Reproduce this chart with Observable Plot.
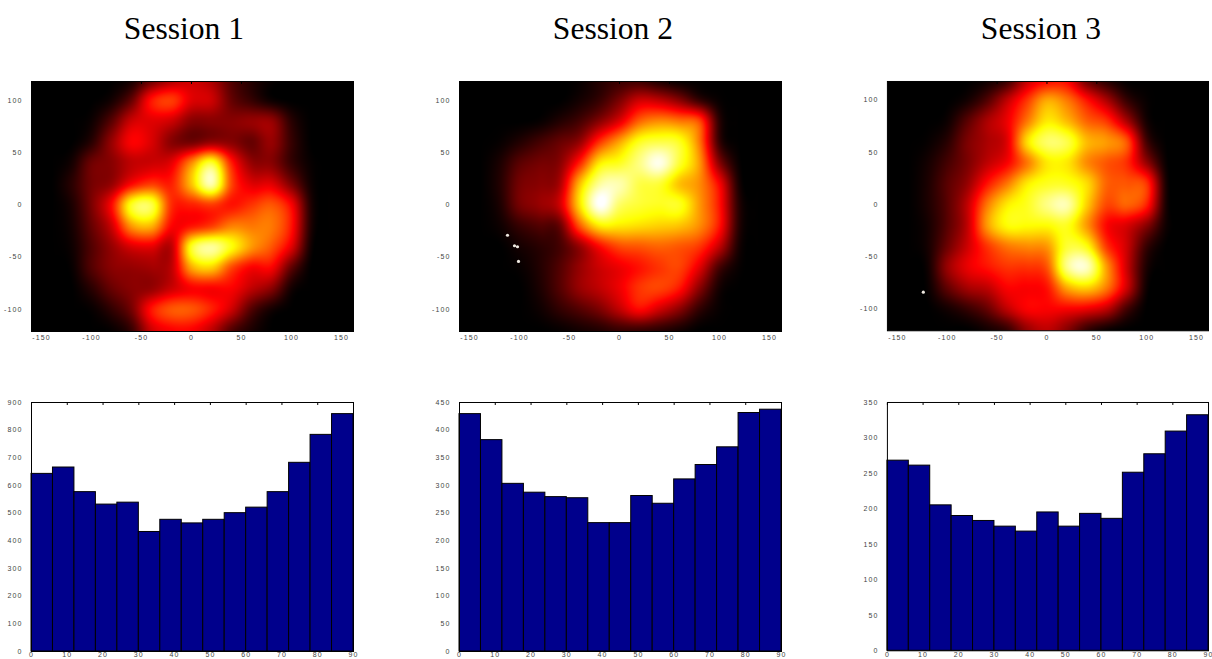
<!DOCTYPE html>
<html>
<head>
<meta charset="utf-8">
<script src="https://cdn.jsdelivr.net/npm/d3@7"></script>
<script src="https://cdn.jsdelivr.net/npm/@observablehq/plot@0.6"></script>
<style>
html,body{margin:0;padding:0;background:#fff;overflow:hidden}
#page{position:relative;width:1212px;height:659px}
.title{position:absolute;top:11px;width:300px;text-align:center;font:31.6px "Liberation Serif",serif;color:#000;line-height:36px}
.panel{position:absolute}
.panel svg{display:block}
</style>
</head>
<body>
<div id="page"></div>
<script>
const titles = ["Session 1","Session 2","Session 3"];
const gridX = [-160,-140,-120,-100,-80,-60,-40,-20,0,20,40,60,80,100,120,140,160];
const gridY = [120,100,80,60,40,20,0,-20,-40,-60,-80,-100,-120];

const heat1 = [
[0,0,0,0,0,3,15,25,30,25,12,5,1,0,0,0,0],
[0,0,0,0,3,15,40,46,33,30,15,8,2,0,0,0,0],
[0,0,0,2,13,30,33,30,20,20,20,22,22,6,0,0,0],
[0,0,0,6,22,37,32,20,17,22,20,15,22,8,0,0,0],
[0,0,3,16,20,28,30,34,58,80,42,22,20,8,1,0,0],
[0,0,6,17,22,38,46,42,66,92,48,33,33,18,2,0,0],
[0,0,4,18,38,78,82,44,42,46,40,45,50,37,4,0,0],
[0,0,3,15,30,60,64,38,40,46,56,55,55,40,4,0,0],
[0,0,2,12,22,32,34,28,78,90,76,60,50,33,2,0,0],
[0,0,1,12,20,22,24,28,62,68,48,37,37,14,0,0,0],
[0,0,0,6,15,20,22,30,37,37,37,28,20,3,0,0,0],
[0,0,0,1,7,17,40,50,50,42,30,12,3,0,0,0,0],
[0,0,0,0,1,8,30,37,37,28,12,4,0,0,0,0,0]];
const heat2 = [
[0,0,0,0,0,0,1,5,8,8,3,0,0,0,0,0,0],
[0,0,0,0,0,0,3,8,18,30,28,20,8,1,0,0,0],
[0,0,0,0,1,5,10,20,33,52,58,55,48,6,0,0,0],
[0,0,1,5,10,15,22,45,62,78,82,78,55,8,0,0,0],
[0,0,4,13,17,20,42,72,78,88,98,80,60,20,1,0,0],
[0,0,5,17,20,25,65,90,92,82,80,66,58,37,3,0,0],
[0,0,4,17,22,30,70,100,85,80,78,78,60,40,5,0,0],
[0,0,2,8,12,15,50,72,72,70,68,66,58,40,5,0,0],
[0,0,0,3,6,10,22,38,48,50,52,50,45,28,3,0,0],
[0,0,0,1,5,12,22,30,35,40,45,47,33,10,1,0,0],
[0,0,0,0,4,12,22,28,35,45,47,40,20,3,0,0,0],
[0,0,0,0,2,7,12,18,28,38,30,20,7,1,0,0,0],
[0,0,0,0,0,1,3,5,8,8,6,3,0,0,0,0,0]];
const heat3 = [
[0,0,0,0,0,2,8,28,37,37,15,5,0,0,0,0,0],
[0,0,0,0,3,12,28,45,62,55,40,25,8,1,0,0,0],
[0,0,0,2,13,25,35,55,72,65,52,45,25,3,0,0,0],
[0,0,1,6,18,25,33,70,85,82,65,60,50,10,0,0,0],
[0,0,3,10,18,28,37,55,72,72,58,50,44,22,1,0,0],
[0,0,4,13,22,40,55,72,78,78,70,52,50,45,3,0,0],
[0,0,4,13,28,55,72,78,88,92,68,48,52,42,3,0,0],
[0,0,3,13,28,60,75,75,75,78,60,38,32,20,2,0,0],
[0,0,3,16,30,45,55,58,60,80,76,45,30,8,0,0,0],
[0,0,2,22,34,40,45,45,50,88,94,60,30,4,0,0,0],
[0,0,1,14,24,28,37,37,40,62,68,55,30,2,0,0,0],
[0,0,0,3,8,15,28,37,37,37,35,28,10,0,0,0,0],
[0,0,0,0,0,3,8,22,28,20,8,2,0,0,0,0,0]];

const dots1X = [], dots1Y = [];
const dots2X = [-112,-105,-102,-101], dots2Y = [-29,-39,-40,-54];
const dots3X = [-124], dots3Y = [-84];

const histBins = [0,6,12,18,24,30,36,42,48,54,60,66,72,78,84];
const hist1 = [642,665,576,531,538,432,476,463,476,500,520,576,682,783,858];
const hist2 = [429,382,303,287,279,277,232,232,281,267,311,337,369,431,437];
const hist3 = [268,261,205,190,183,175,168,195,175,193,186,251,277,309,332];

const heatXTicks = [-150,-100,-50,0,50,100,150];
const heatYTicks = [-100,-50,0,50,100];
const histXTicks = [0,10,20,30,40,50,60,70,80,90];
const histYTicks1 = [0,100,200,300,400,500,600,700,800,900];
const histYTicks2 = [0,50,100,150,200,250,300,350,400,450];
const histYTicks3 = [0,50,100,150,200,250,300,350];
const histMax = [900,450,350];

const panelLeft = [0,428,856];
const titleCenter = [184,613,1041];
const tickColor = "#444";
const axisStyle = {fontSize:"7px",fontFamily:"Liberation Sans Narrow, Liberation Sans, sans-serif",letterSpacing:"1.1px",background:"transparent",overflow:"visible"};

function cr(a,b,c,d,t){return 0.5*((2*b)+(-a+c)*t+(2*a-5*b+4*c-d)*t*t+(-a+3*b-3*c+d)*t*t*t);}
function sampler(grid){
  const nr=grid.length,nc=grid[0].length;
  const g=(r,c)=>grid[Math.max(0,Math.min(nr-1,r))][Math.max(0,Math.min(nc-1,c))];
  return (x,y)=>{
    const fx=(x+160)/20, fy=(120-y)/20;
    const c=Math.floor(fx), r=Math.floor(fy), tx=fx-c, ty=fy-r;
    const rows=[-1,0,1,2].map(dr=>cr(g(r+dr,c-1),g(r+dr,c),g(r+dr,c+1),g(r+dr,c+2),tx));
    return Math.max(0,cr(rows[0],rows[1],rows[2],rows[3],ty));
  };
}
const page=document.getElementById("page");
function place(el,left,top){const w=document.createElement("div");w.className="panel";w.style.left=left+"px";w.style.top=top+"px";w.appendChild(el);page.appendChild(w);}

[heat1,heat2,heat3].forEach((grid,i)=>{
  const t=document.createElement("div");t.className="title";t.textContent=titles[i];t.style.left=(titleCenter[i]-150)+"px";page.appendChild(t);
  const dx=[dots1X,dots2X,dots3X][i], dy=[dots1Y,dots2Y,dots3Y][i];
  const dots=dx.map((x,k)=>({x,y:dy[k]}));
  place(Plot.plot({
    width:357,height:269,marginLeft:31,marginRight:4,marginTop:5,marginBottom:14,
    style:axisStyle,
    x:{domain:[-160,162],label:null},
    y:{domain:[-121,118],label:null},
    color:{type:"linear",domain:[0,37.5,75,100],range:["#000000","#ff0000","#ffff00","#ffffff"],clamp:true},
    marks:[
      Plot.raster({fill:sampler(grid),x1:-160,x2:162,y1:-121,y2:118,pixelSize:1}),
      Plot.dot(dots,{x:"x",y:"y",r:1.6,fill:"#eee8e0",stroke:"none"}),
      Plot.axisX({ticks:heatXTicks,tickSize:0,tickPadding:4,tickFormat:String,label:null,color:tickColor}),
      Plot.axisY({ticks:heatYTicks,tickSize:0,tickPadding:9,tickFormat:String,label:null,color:tickColor}),
      Plot.axisX({anchor:"top",ticks:heatXTicks,tickSize:-2,tickFormat:()=>"",label:null,stroke:"#000"}),
      Plot.frame({stroke:"#000",strokeWidth:1})
    ]
  }),panelLeft[i],76);
});

[hist1,hist2,hist3].forEach((vals,i)=>{
  const rows=histBins.map((b,k)=>({x1:b,x2:b+6,v:vals[k]}));
  place(Plot.plot({
    width:357,height:262,marginLeft:31,marginRight:4,marginTop:5,marginBottom:8,
    style:axisStyle,
    x:{domain:[0,90],label:null},
    y:{domain:[0,histMax[i]],label:null},
    marks:[
      Plot.rectY(rows,{x1:"x1",x2:"x2",y1:0,y2:"v",fill:"#00008c",stroke:"#000",strokeWidth:1,inset:0}),
      Plot.axisX({ticks:histXTicks,tickSize:0,tickPadding:1,tickFormat:String,label:null,color:tickColor}),
      Plot.axisY({ticks:[histYTicks1,histYTicks2,histYTicks3][i],tickSize:0,tickPadding:9,tickFormat:String,label:null,color:tickColor}),
      Plot.axisX({anchor:"top",ticks:histXTicks,tickSize:-2,tickFormat:()=>"",label:null,stroke:"#000"}),
      Plot.frame({stroke:"#000",strokeWidth:1})
    ]
  }),panelLeft[i],397);
});
</script>
</body>
</html>
